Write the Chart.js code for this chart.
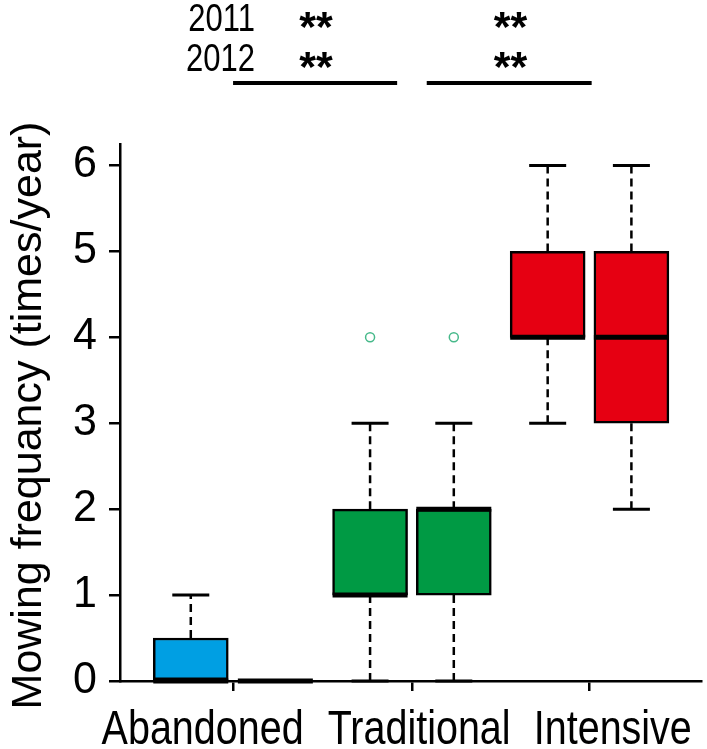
<!DOCTYPE html>
<html>
<head>
<meta charset="utf-8">
<script src="https://cdn.jsdelivr.net/npm/chart.js@4/dist/chart.umd.min.js"></script>
<style>
  body { margin: 0; background: #fff; }
  canvas { display: block; }
</style>
</head>
<body>
<canvas id="box-chart" width="707" height="749"></canvas>
<script>
// categories and years
var groups = ["Abandoned", "Traditional", "Intensive"];
var years = ["2011", "2012"];

// one entry per box: Aband 2011, Aband 2012, Trad 2011, Trad 2012, Int 2011, Int 2012
var boxPos = [1, 2, 3.12, 4.11, 5.22, 6.21];
var whiskerLow = [0, 0, 0, 0, 3, 2];
var q1 = [0, 0, 1, 1, 4, 3];
var median = [0, 0, 1, 2, 4, 4];
var q3 = [0.5, 0, 2, 2, 5, 5];
var whiskerHigh = [1, 0, 3, 3, 6, 6];
var outliers = [[], [], [4], [4], [], []];
var boxColors = ["#009fe3", "#009fe3", "#009a44", "#009a44", "#e60012", "#e60012"];

// axes
var yTicks = [0, 1, 2, 3, 4, 5, 6];
var groupTicks = [1.5, 3.615, 5.715];
var groupLabelPos = [1.14, 3.70, 5.99];

// significance marks above the plot
var sigStars = [["**", "**"], ["**", "**"]];
var starPos = [2.48, 4.78];
var sigLines = [[1.5, 3.44], [3.79, 5.74]];

var FONT = '"Liberation Sans", Arial, sans-serif';

var boxData = [];
for (var i = 0; i < boxPos.length; i++) {
	boxData.push({ x: boxPos[i], y: [q1[i], q3[i]] });
}
var outlierData = [];
for (var i = 0; i < boxPos.length; i++) {
	for (var j = 0; j < outliers[i].length; j++) {
		outlierData.push({ x: boxPos[i], y: outliers[i][j] });
	}
}

function drawText(ctx, txt, x, y, size, align, sy, weight) {
	ctx.save();
	ctx.translate(x, y);
	ctx.scale(1, sy);
	ctx.font = (weight || "normal") + " " + size + "px " + FONT;
	ctx.textAlign = align;
	ctx.textBaseline = "alphabetic";
	ctx.fillStyle = "#000";
	ctx.fillText(txt, 0, 0);
	ctx.restore();
}

var boxPlugin = {
	id: "boxParts",
	beforeDatasetsDraw: function(chart) {
		var ctx = chart.ctx;
		var xs = chart.scales.x, ys = chart.scales.y;
		ctx.save();
		ctx.strokeStyle = "#000";
		for (var i = 0; i < boxPos.length; i++) {
			var px = xs.getPixelForValue(boxPos[i]);
			ctx.lineWidth = 2.5;
			ctx.setLineDash([8, 5]);
			ctx.beginPath();
			if (whiskerHigh[i] > q3[i]) {
				ctx.moveTo(px, ys.getPixelForValue(q3[i]));
				ctx.lineTo(px, ys.getPixelForValue(whiskerHigh[i]));
			}
			if (whiskerLow[i] < q1[i]) {
				ctx.moveTo(px, ys.getPixelForValue(q1[i]));
				ctx.lineTo(px, ys.getPixelForValue(whiskerLow[i]));
			}
			ctx.stroke();
			ctx.setLineDash([]);
			ctx.lineWidth = 3;
			ctx.beginPath();
			var hw = 18.5;
			[whiskerHigh[i], whiskerLow[i]].forEach(function(v) {
				var py = ys.getPixelForValue(v);
				ctx.moveTo(px - hw, py);
				ctx.lineTo(px + hw, py);
			});
			ctx.stroke();
		}
		ctx.restore();
	},
	afterDatasetsDraw: function(chart) {
		var ctx = chart.ctx;
		var xs = chart.scales.x, ys = chart.scales.y;
		ctx.save();
		ctx.strokeStyle = "#000";
		ctx.lineWidth = 5;
		ctx.beginPath();
		for (var i = 0; i < boxPos.length; i++) {
			var px = xs.getPixelForValue(boxPos[i]);
			var py = ys.getPixelForValue(median[i]);
			ctx.moveTo(px - 37.5, py);
			ctx.lineTo(px + 37.5, py);
		}
		ctx.stroke();
		ctx.restore();
	},
	afterDraw: function(chart) {
		var ctx = chart.ctx;
		var xs = chart.scales.x, ys = chart.scales.y;
		var area = chart.chartArea;

		// y tick labels
		yTicks.forEach(function(v) {
			drawText(ctx, String(v), 97, ys.getPixelForValue(v) + 12, 43, "right", 1.05);
		});

		// x group labels
		groups.forEach(function(g, k) {
			drawText(ctx, g, xs.getPixelForValue(groupLabelPos[k]), area.bottom + 63, 39.5, "center", 1.22);
		});

		// y title
		ctx.save();
		ctx.translate(41, (area.top + area.bottom) / 2 + 3);
		ctx.rotate(-Math.PI / 2);
		ctx.font = "43px " + FONT;
		ctx.textAlign = "center";
		ctx.textBaseline = "alphabetic";
		ctx.fillStyle = "#000";
		ctx.fillText("Mowing frequancy (times/year)", 0, 0);
		ctx.restore();

		// significance rows
		var rowBase = [31, 71];
		years.forEach(function(yr, r) {
			drawText(ctx, yr, 255, rowBase[r], 31, "right", 1.25);
			sigStars[r].forEach(function(s, k) {
				drawText(ctx, s, xs.getPixelForValue(starPos[k]), rowBase[r] + 10, 43, "center", 1.0, "bold");
			});
		});

		ctx.save();
		ctx.strokeStyle = "#000";
		ctx.lineWidth = 4;
		ctx.beginPath();
		sigLines.forEach(function(l) {
			ctx.moveTo(xs.getPixelForValue(l[0]), 83);
			ctx.lineTo(xs.getPixelForValue(l[1]), 83);
		});
		ctx.stroke();
		ctx.restore();
	}
};

var ctx = document.getElementById("box-chart");

var chart = new Chart(ctx, {
	type: "bar",
	data: {
		datasets: [
		{
			label: "box",
			data: boxData,
			backgroundColor: boxColors,
			borderColor: "#000",
			borderWidth: 2.5,
			borderSkipped: false,
			barThickness: 75
		},
		{
			type: "scatter",
			label: "outliers",
			data: outlierData,
			pointRadius: 4.5,
			pointBorderWidth: 1.5,
			pointBorderColor: "#46b98a",
			pointBackgroundColor: "rgba(0,0,0,0)"
		}
		]
	},
	options: {
		responsive: false,
		animation: false,
		layout: { padding: { top: 144, left: 0, right: 0, bottom: 0 } },
		plugins: {
			legend: { display: false },
			tooltip: { enabled: false }
		},
		scales: {
			x: {
				type: "linear",
				min: 0.163,
				max: 7.033,
				offset: false,
				afterBuildTicks: function(scale) {
					scale.ticks = groupTicks.map(function(v) { return { value: v }; });
				},
				afterFit: function(scale) { scale.height = 68; },
				ticks: { display: false },
				grid: { offset: false, drawOnChartArea: false, drawTicks: true, tickLength: 10, color: "#000", lineWidth: 2.5 },
				border: { display: true, color: "#000", width: 2.5 }
			},
			y: {
				min: 0,
				max: 6.25,
				afterBuildTicks: function(scale) {
					scale.ticks = yTicks.map(function(v) { return { value: v }; });
				},
				afterFit: function(scale) { scale.width = 120; },
				ticks: { display: false },
				grid: { drawOnChartArea: false, drawTicks: true, tickLength: 11, color: "#000", lineWidth: 2.5 },
				border: { display: true, color: "#000", width: 2.5 }
			}
		}
	},
	plugins: [boxPlugin]
});
</script>
</body>
</html>
